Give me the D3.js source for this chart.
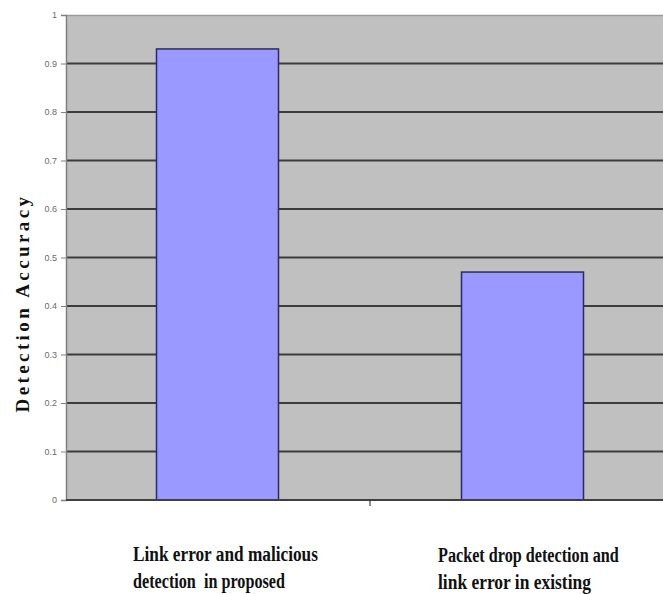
<!DOCTYPE html>
<html>
<head>
<meta charset="utf-8">
<script src="https://cdn.jsdelivr.net/npm/d3@7"></script>
<style>
  html, body { margin: 0; padding: 0; background: #ffffff; }
  svg { display: block; }
  text { white-space: pre; }
</style>
</head>
<body>
<svg id="chart" width="663" height="594"></svg>
<script>
// Detection accuracy for the two schemes
const categories = ["proposed", "existing"];
const categoryLines = [
  ["Link error and malicious", "detection  in proposed"],
  ["Packet drop detection and", "link error in existing"]
];
const accuracy = [0.93, 0.47];
const yTicks = [0, 0.1, 0.2, 0.3, 0.4, 0.5, 0.6, 0.7, 0.8, 0.9, 1];
const yTitle = "Detection Accuracy";

const svg = d3.select("#chart");
const plot = { left: 66, right: 675, top: 15, bottom: 500 };

const x = d3.scaleBand().domain(categories).range([plot.left - 1, plot.right]).padding(0);
const y = d3.scaleLinear().domain([0, 1]).range([plot.bottom, plot.top]);

// plot background
svg.append("rect")
  .attr("x", plot.left).attr("y", plot.top)
  .attr("width", 663 - plot.left).attr("height", plot.bottom - plot.top)
  .attr("fill", "#c0c0c0");

// top border
svg.append("line")
  .attr("x1", plot.left).attr("x2", 663)
  .attr("y1", plot.top + 0.5).attr("y2", plot.top + 0.5)
  .attr("stroke", "#9a9a9a").attr("stroke-width", 1.5);

// gridlines
svg.append("g").selectAll("line")
  .data(yTicks.filter(d => d > 0 && d < 1))
  .join("line")
  .attr("x1", plot.left).attr("x2", 663)
  .attr("y1", d => y(d)).attr("y2", d => y(d))
  .attr("stroke", "#3c3c3c").attr("stroke-width", 2);

// bars
const barFrac = 0.4;
svg.append("g").selectAll("rect")
  .data(categories.map((c, i) => ({ c, v: accuracy[i] })))
  .join("rect")
  .attr("x", d => x(d.c) + x.bandwidth() * (1 - barFrac) / 2)
  .attr("width", x.bandwidth() * barFrac)
  .attr("y", d => y(d.v))
  .attr("height", d => y(0) - y(d.v))
  .attr("fill", "#9999ff")
  .attr("stroke", "#2a2a66").attr("stroke-width", 1.5);

// y axis
const yAxis = d3.axisLeft(y).tickValues(yTicks).tickSize(5).tickPadding(4)
  .tickFormat(d => d === 0 ? "0" : d === 1 ? "1" : d3.format(".1f")(d));
const gy = svg.append("g").attr("transform", `translate(${plot.left},0)`).call(yAxis);
gy.select(".domain").attr("stroke", "#808080").attr("stroke-width", 1.5);
gy.selectAll(".tick line").attr("stroke", "#808080");
gy.selectAll(".tick text")
  .attr("fill", "#6a6a6a")
  .attr("font-family", "Liberation Sans, Arial, sans-serif")
  .attr("font-size", 9);

// x axis line
svg.append("line")
  .attr("x1", plot.left).attr("x2", 663)
  .attr("y1", plot.bottom).attr("y2", plot.bottom)
  .attr("stroke", "#404040").attr("stroke-width", 2);
// category separator tick
svg.append("line")
  .attr("x1", x(categories[1])).attr("x2", x(categories[1]))
  .attr("y1", plot.bottom).attr("y2", plot.bottom + 6)
  .attr("stroke", "#404040").attr("stroke-width", 1.2);

// category labels: bold serif squeezed horizontally to a condensed look
const labelPos = [
  { x: 133, y: 561, w: [185, 152] },
  { x: 438, y: 562, w: [181, 153] }
];
categoryLines.forEach((lines, i) => {
  lines.forEach((t, j) => {
    const g = svg.append("g");
    const txt = g.append("text")
      .attr("x", 0).attr("y", 0)
      .attr("font-family", "Liberation Serif, Times New Roman, serif")
      .attr("font-weight", "bold")
      .attr("font-size", 22)
      .attr("fill", "#111111")
      .text(t);
    const natural = txt.node().getComputedTextLength();
    const sx = labelPos[i].w[j] / natural;
    g.attr("transform", `translate(${labelPos[i].x},${labelPos[i].y + j * 27}) scale(${sx},1)`);
  });
});

// y axis title
svg.append("text")
  .attr("transform", `translate(29,303) rotate(-90)`)
  .attr("text-anchor", "middle")
  .attr("font-family", "Liberation Serif, Times New Roman, serif")
  .attr("font-weight", "bold")
  .attr("font-size", 19)
  .attr("letter-spacing", 3.4)
  .attr("fill", "#111111")
  .text(yTitle);
</script>
</body>
</html>
